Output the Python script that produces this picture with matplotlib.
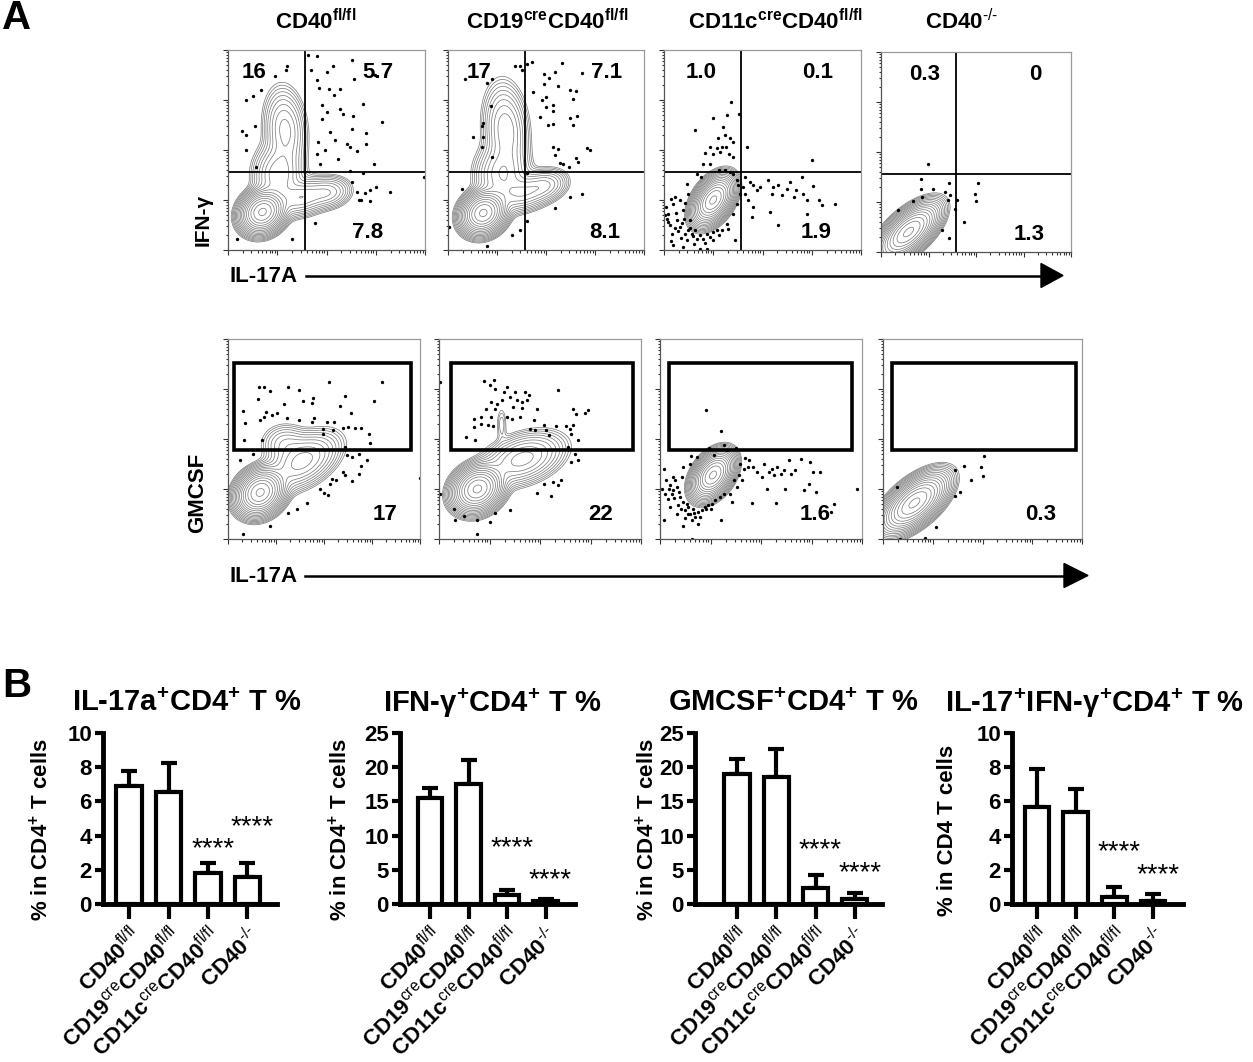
import numpy as np
import matplotlib
matplotlib.use("Agg")
from matplotlib import pyplot as plt
from matplotlib.lines import Line2D
from matplotlib.patches import Rectangle, Polygon

W, H = 1253, 1062

plt.rcParams['font.family'] = ['Liberation Sans', 'DejaVu Sans']
plt.rcParams['mathtext.fontset'] = 'custom'
plt.rcParams['mathtext.rm'] = 'Liberation Sans'
plt.rcParams['mathtext.bf'] = 'Liberation Sans:bold'
plt.rcParams['mathtext.it'] = 'Liberation Sans:italic'

# ---------------- data ----------------
genotypes = [r"$\mathbf{CD40^{fl/fl}}$", r"$\mathbf{CD19^{cre}CD40^{fl/fl}}$",
             r"$\mathbf{CD11c^{cre}CD40^{fl/fl}}$", r"$\mathbf{CD40}^{\text{-/-}}$"]
bar_labels = [r"$\mathbf{CD40}^{\mathrm{fl/fl}}$", r"$\mathbf{CD19}^{\mathrm{cre}}\mathbf{CD40}^{\mathrm{fl/fl}}$",
              r"$\mathbf{CD11c}^{\mathrm{cre}}\mathbf{CD40}^{\mathrm{fl/fl}}$", r"$\mathbf{CD40}^{\text{-/-}}$"]

# quadrant percentages (IFN-g vs IL-17A): upper-left, upper-right, lower-right
ifn_ul = ["16", "17", "1.0", "0.3"]
ifn_ur = ["5.7", "7.1", "0.1", "0"]
ifn_lr = ["7.8", "8.1", "1.9", "1.3"]
gm_pct = ["17", "22", "1.6", "0.3"]

# quadrant gate positions (log decades)
quad_x = [1.57, 1.57, 1.56, 1.58]
quad_y = [1.56, 1.56, 1.56, 1.56]
# GMCSF gate: x0, x1, y0, y1
gm_gates = [(0.12, 3.81, 1.78, 3.52), (0.24, 3.84, 1.78, 3.52),
            (0.18, 3.80, 1.78, 3.52), (0.18, 3.88, 1.78, 3.52)]

# population blobs: cx, cy, sx, sy, angle, weight
blobs_ifn = [
    [(0.70, 0.76, 0.20, 0.17, 35, 1.0), (1.16, 2.40, 0.20, 0.40, 5, 0.07),
     (1.02, 1.50, 0.24, 0.30, 0, 0.08), (1.50, 1.05, 0.30, 0.17, 15, 0.08),
     (2.05, 1.15, 0.22, 0.15, 10, 0.05)],
    [(0.72, 0.74, 0.20, 0.17, 35, 1.0), (1.18, 2.40, 0.21, 0.44, 5, 0.08),
     (1.10, 1.50, 0.26, 0.30, 0, 0.08), (1.55, 1.15, 0.30, 0.17, 15, 0.08),
     (2.00, 1.30, 0.22, 0.15, 15, 0.05)],
    [(1.00, 1.00, 0.23, 0.14, 55, 1.0)],
    [(0.58, 0.40, 0.32, 0.15, 40, 1.0)],
]
blobs_gm = [
    [(0.67, 0.93, 0.22, 0.18, 35, 1.0), (1.55, 1.55, 0.40, 0.22, 30, 0.10),
     (1.20, 1.90, 0.25, 0.20, 0, 0.03)],
    [(0.76, 1.00, 0.22, 0.18, 35, 1.0), (1.65, 1.60, 0.40, 0.22, 20, 0.10),
     (1.24, 2.30, 0.06, 0.20, 0, 0.01)],
    [(1.05, 1.28, 0.22, 0.14, 55, 1.0)],
    [(0.63, 0.72, 0.33, 0.16, 40, 1.0)],
]

dots_ifn = [
    [(1.19, 3.69), (1.17, 3.6), (0.96, 3.48), (0.67, 3.21), (0.51, 3.08), (0.37, 3.0), (0.28, 2.39),
     (0.37, 2.3), (0.55, 2.47), (0.37, 2.0), (0.57, 1.67), (1.62, 3.9), (1.8, 3.88), (1.69, 3.6),
     (1.8, 3.41), (2.0, 3.57), (2.14, 3.69), (2.51, 3.8), (2.56, 3.43), (2.98, 3.5), (1.85, 3.25),
     (2.06, 3.23), (2.16, 3.1), (2.27, 3.23), (1.9, 2.9), (2.0, 2.77), (2.27, 2.83), (2.34, 2.73),
     (2.75, 2.93), (2.54, 2.68), (1.9, 2.63), (3.12, 2.57), (2.51, 2.43), (2.07, 2.37), (2.8, 2.35),
     (2.17, 2.21), (2.41, 2.13), (2.48, 2.07), (2.81, 2.12), (1.83, 2.17), (1.97, 2.0), (1.8, 1.93),
     (1.87, 1.73), (2.24, 1.83), (2.61, 1.99), (2.96, 1.72), (2.48, 1.59), (2.74, 1.55), (2.51, 1.37),
     (2.61, 1.17), (2.78, 1.15), (2.88, 1.21), (3.0, 1.27), (3.28, 1.17), (2.65, 1.01), (2.71, 1.01),
     (2.88, 0.99), (1.77, 0.55), (1.29, 0.23), (0.19, 0.23), (3.98, 1.47)],
    [(0.35, 3.42), (0.79, 3.35), (0.89, 3.43), (1.37, 3.68), (1.47, 3.68), (1.5, 3.6), (1.61, 3.73),
     (1.71, 3.76), (0.87, 2.88), (0.71, 2.55), (0.69, 2.47), (0.52, 2.27), (0.71, 2.27), (0.69, 2.07),
     (0.89, 1.87), (1.95, 3.52), (2.07, 3.45), (2.19, 3.57), (2.32, 3.75), (2.73, 3.55), (1.95, 3.33),
     (2.25, 3.28), (2.49, 3.21), (2.61, 3.19), (1.74, 3.17), (1.91, 3.0), (2.0, 3.07), (2.56, 3.03),
     (2.01, 2.87), (2.15, 2.9), (2.14, 2.79), (1.88, 2.67), (2.49, 2.65), (2.64, 2.68), (2.05, 2.5),
     (2.15, 2.53), (2.56, 2.5), (2.15, 2.07), (2.25, 2.03), (2.83, 2.05), (2.9, 2.0), (2.18, 1.9),
     (2.29, 1.75), (2.35, 1.73), (2.61, 1.85), (2.66, 1.77), (2.46, 1.67), (1.61, 1.55), (0.28, 1.23),
     (2.49, 1.07), (2.73, 1.12), (2.18, 0.85), (1.61, 0.59), (1.47, 0.4), (1.3, 0.3), (0.79, 0.08),
     (0.02, 0.47)],
    [(1.37, 2.97), (0.99, 2.65), (1.27, 2.7), (1.52, 2.73), (0.63, 2.41), (1.19, 2.45), (1.1, 2.25),
     (1.24, 2.3), (1.34, 2.25), (1.41, 2.17), (0.93, 2.07), (1.07, 2.05), (1.17, 2.07), (1.26, 2.07),
     (0.83, 1.95), (1.0, 1.93), (1.14, 1.97), (1.31, 1.93), (1.41, 1.87), (1.68, 2.07), (3.0, 1.81),
     (0.8, 1.73), (0.93, 1.73), (1.12, 1.6), (1.24, 1.6), (1.34, 1.57), (1.65, 1.47), (1.75, 1.37),
     (1.81, 1.3), (1.88, 1.2), (1.95, 1.27), (2.12, 1.4), (2.22, 1.27), (2.19, 1.13), (2.32, 1.3),
     (2.39, 1.1), (2.49, 1.23), (2.56, 1.37), (2.63, 1.07), (2.69, 1.2), (2.8, 1.47), (2.83, 1.13),
     (2.9, 1.0), (3.03, 1.28), (3.14, 1.0), (3.2, 0.9), (3.47, 0.93), (2.15, 0.77), (2.32, 0.5),
     (2.9, 0.73), (1.78, 0.67), (1.81, 0.87), (1.71, 1.0), (1.65, 1.13), (1.61, 1.27), (1.44, 0.2),
     (0.05, 0.87), (0.09, 0.73), (0.19, 0.93), (0.26, 0.6), (0.32, 1.0), (0.39, 0.8), (0.46, 1.33),
     (0.49, 1.13), (0.53, 0.6), (0.32, 0.47), (0.43, 0.33), (0.46, 0.2), (0.56, 0.33), (0.63, 0.4),
     (0.6, 0.13), (0.73, 0.3), (0.8, 0.23), (0.87, 0.33), (0.93, 0.27), (1.0, 0.37), (1.07, 0.4),
     (0.73, 0.03), (0.87, 0.03), (0.16, 0.33), (0.19, 0.1), (0.39, 0.07), (0.09, 0.57), (0.66, 1.53),
     (0.76, 1.47), (1.41, 1.53), (1.48, 1.4), (1.51, 1.3), (1.54, 1.13), (1.48, 0.93), (1.41, 0.73),
     (1.27, 0.53), (1.17, 0.4), (0.22, 1.07), (0.02, 0.7), (0.12, 0.5), (0.25, 0.75), (0.36, 0.55),
     (0.29, 0.38), (0.52, 0.45), (0.68, 0.22), (0.99, 0.2), (0.14, 1.02), (0.42, 0.95),
     (0.35, 0.25), (0.58, 0.28), (0.48, 0.4), (0.22, 0.45), (0.06, 0.62), (0.84, 0.15), (1.12, 0.3),
     (1.3, 0.42), (0.15, 0.18), (0.4, 0.62)],
    [(0.98, 1.76), (0.84, 1.47), (0.84, 1.27), (1.1, 1.27), (1.44, 1.39), (1.35, 1.21), (1.46, 1.15),
     (1.42, 1.05), (1.59, 1.05), (1.56, 0.87), (1.75, 0.61), (1.28, 0.44), (1.44, 0.29), (1.98, 1.17),
     (2.05, 1.39), (2.0, 1.02), (0.67, 1.02), (0.36, 0.85), (0.86, 1.11)],
]

dots_gm = [
    [(0.32, 2.57), (0.35, 2.33), (0.34, 1.98), (0.65, 3.05), (0.74, 3.05), (0.63, 2.8), (0.88, 2.97),
     (0.79, 2.54), (0.74, 2.45), (0.92, 2.48), (1.03, 2.53), (1.26, 3.05), (1.48, 2.99), (1.17, 2.7),
     (1.22, 2.43), (1.47, 2.38), (1.57, 2.77), (1.78, 2.83), (1.76, 2.73), (1.79, 2.43), (1.74, 2.35),
     (2.11, 3.14), (2.44, 2.87), (2.33, 2.66), (2.56, 2.53), (2.06, 2.35), (2.21, 2.35), (1.97, 2.21),
     (2.19, 2.19), (2.4, 2.23), (2.51, 2.25), (1.97, 2.11), (2.65, 2.23), (2.78, 2.23), (2.94, 2.11),
     (2.96, 1.93), (3.05, 2.77), (3.21, 3.14), (0.7, 1.99), (0.67, 2.38), (0.25, 1.58), (0.53, 1.71),
     (2.44, 1.85), (2.47, 1.68), (2.58, 1.65), (2.72, 1.71), (2.78, 1.46), (2.89, 1.58), (2.72, 1.31),
     (2.4, 1.35), (2.44, 1.28), (2.26, 1.18), (2.16, 1.21), (2.13, 1.11), (2.58, 1.17), (1.92, 1.01),
     (2.09, 0.88), (1.99, 0.93), (1.65, 0.73), (1.43, 0.61), (1.24, 0.53), (0.88, 0.27), (0.31, 0.11),
     (3.99, 1.23)],
    [(0.9, 3.16), (1.09, 3.18), (1.0, 3.08), (1.1, 3.01), (1.34, 3.05), (1.29, 2.95), (1.51, 2.95),
     (1.71, 2.95), (1.78, 2.88), (1.41, 2.85), (1.54, 2.78), (1.64, 2.75), (1.74, 2.78), (1.24, 2.78),
     (1.03, 2.75), (1.14, 2.71), (0.93, 2.61), (1.1, 2.61), (1.47, 2.65), (1.64, 2.63), (1.95, 2.61),
     (2.35, 2.98), (0.7, 2.41), (0.83, 2.45), (1.03, 2.45), (0.7, 2.25), (0.83, 2.31), (0.97, 2.28),
     (1.07, 2.26), (1.34, 2.45), (1.44, 2.41), (1.61, 2.45), (1.88, 2.38), (2.08, 2.28), (1.81, 2.21),
     (1.91, 2.18), (2.11, 2.18), (2.32, 2.26), (2.18, 2.08), (2.52, 2.26), (2.59, 2.21), (2.66, 2.28),
     (2.62, 2.11), (2.76, 1.99), (2.66, 2.61), (2.72, 2.5), (2.89, 2.53), (2.96, 2.59), (0.53, 2.05),
     (0.71, 1.98), (2.55, 1.85), (2.62, 1.55), (2.76, 1.58), (2.69, 1.71), (2.42, 1.19), (2.25, 1.15),
     (2.08, 1.11), (2.35, 1.08), (1.95, 0.93), (2.22, 0.86), (1.41, 0.58), (1.1, 0.53), (1.0, 0.35),
     (0.76, 0.38), (0.76, 0.11), (0.49, 0.46), (0.32, 0.39), (0.29, 0.61), (0.02, 0.9), (0.02, 3.15)],
    [(0.91, 2.58), (1.21, 2.17), (1.27, 1.88), (0.98, 1.83), (1.51, 1.83), (0.61, 1.66), (1.32, 1.78),
     (1.69, 1.63), (1.77, 1.58), (1.59, 1.51), (1.66, 1.41), (1.75, 1.45), (1.85, 1.45), (1.92, 1.35),
     (2.02, 1.25), (2.06, 1.5), (2.15, 1.35), (2.22, 1.41), (2.25, 1.28), (2.32, 1.45), (2.4, 1.3),
     (2.45, 1.38), (2.55, 1.58), (2.6, 1.3), (2.68, 1.38), (2.8, 1.61), (2.98, 1.55), (3.03, 1.35),
     (3.17, 1.35), (2.95, 1.11), (3.08, 0.95), (2.85, 0.98), (2.3, 0.73), (2.48, 1.01), (2.11, 1.01),
     (1.82, 0.73), (3.91, 1.01), (3.44, 0.71), (3.38, 0.55), (1.52, 1.05), (1.42, 0.75), (1.38, 0.91),
     (1.46, 1.18), (1.56, 1.28), (1.62, 1.18), (0.07, 1.41), (0.12, 1.19), (0.03, 1.01), (0.2, 1.08),
     (0.23, 0.91), (0.3, 1.18), (0.33, 1.05), (0.4, 0.85), (0.36, 0.68), (0.46, 0.75), (0.5, 0.58),
     (0.56, 0.65), (0.6, 0.51), (0.66, 0.61), (0.7, 0.45), (0.76, 0.55), (0.83, 0.58), (0.89, 0.65),
     (0.96, 0.68), (1.03, 0.71), (1.09, 0.78), (1.19, 0.85), (1.26, 0.91), (0.07, 0.38), (0.46, 0.26),
     (0.63, 0.38), (0.76, 0.31), (1.21, 0.39), (0.63, 0.01), (0.43, 1.25), (0.46, 1.45), (0.6, 1.51),
     (0.73, 1.65), (1.06, 1.68), (0.26, 0.98), (0.15, 0.81), (0.33, 0.51), (0.2, 0.65), (0.53, 0.7),
     (0.38, 0.95), (0.68, 0.52), (0.92, 0.6), (0.25, 1.25), (0.1, 0.9), (0.5, 0.42), (0.55, 0.5),
     (0.42, 0.6), (0.28, 0.82), (0.18, 1.0), (0.8, 0.45), (1.0, 0.6)],
    [(0.28, 1.05), (1.45, 1.38), (1.62, 1.46), (1.97, 1.45), (2.04, 1.66), (2.0, 1.26), (1.77, 1.19),
     (1.55, 0.95), (1.45, 0.87), (1.07, 0.25), (0.85, 0.03), (0.34, 0.01)],
]

# panel B bar data (mean, upper SD)
il17_mean = [6.9, 6.55, 1.8, 1.6]
il17_err = [0.9, 1.7, 0.6, 0.8]
ifn_mean = [15.5, 17.5, 1.3, 0.4]
ifn_err = [1.5, 3.5, 0.7, 0.3]
gm_mean = [19.0, 18.6, 2.3, 0.8]
gm_err = [2.2, 4.0, 1.9, 0.8]
dp_mean = [5.7, 5.4, 0.4, 0.2]
dp_err = [2.2, 1.3, 0.6, 0.4]
il17_stars = [3.2, 4.5]
ifn_stars = [8.2, 3.5]
gm_stars = [7.9, 4.5]
dp_stars = [3.0, 1.7]

fig = plt.figure(figsize=(W / 100, H / 100), dpi=100)


def px_axes(x0, y0, x1, y1):
    return fig.add_axes([x0 / W, 1 - y1 / H, (x1 - x0) / W, (y1 - y0) / H])


def ftext(x, y, s, **kw):
    fig.text(x / W, 1 - y / H, s, **kw)


def density(blobs):
    g = np.linspace(0, 4, 241)
    X, Y = np.meshgrid(g, g)
    Z = np.zeros_like(X)
    for cx, cy, sx, sy, ang, w in blobs:
        t = np.deg2rad(ang)
        dx, dy = X - cx, Y - cy
        u = dx * np.cos(t) + dy * np.sin(t)
        v = -dx * np.sin(t) + dy * np.cos(t)
        Z += w * np.exp(-0.5 * ((u / sx) ** 2 + (v / sy) ** 2))
    return X, Y, Z


def flow_axes(rect, blobs, dots):
    ax = px_axes(*rect)
    X, Y, Z = density(blobs)
    levels = Z.max() * np.geomspace(0.004, 0.92, 17)
    ax.contour(X, Y, Z, levels=levels, colors='#808080', linewidths=0.55)
    d = np.array(dots)
    ax.plot(d[:, 0], d[:, 1], 'o', ms=2.4, color='k', mec='none')
    ax.set_xlim(0, 4)
    ax.set_ylim(0, 4)
    minor = [k + np.log10(m) for k in range(4) for m in range(2, 10)]
    ax.set_xticks(range(5))
    ax.set_yticks(range(5))
    ax.set_xticks(minor, minor=True)
    ax.set_yticks(minor, minor=True)
    ax.tick_params(which='both', direction='out', labelbottom=False, labelleft=False,
                   color='#333333', width=0.8)
    ax.tick_params(which='major', length=3.5)
    ax.tick_params(which='minor', length=1.8)
    for s in ['top', 'right']:
        ax.spines[s].set_color('#9a9a9a')
    for s in ['left', 'bottom']:
        ax.spines[s].set_color('#555555')
    for s in ax.spines.values():
        s.set_linewidth(0.9)
    return ax


# ---------------- panel A ----------------
ftext(2, 18, "A", fontsize=29, fontweight='bold', va='center')

row1 = [(228, 50, 425, 250), (448, 50, 644, 250), (664, 50, 861, 250), (881, 52, 1071, 252)]
row2 = [(228, 339, 420, 539), (439, 339, 641, 539), (660, 339, 862, 539), (883, 339, 1082, 539)]
title_x = [316, 547, 775, 962]
ul_fx = [0.13, 0.16, 0.19, 0.23]
ur_fx = [0.76, 0.81, 0.78, 0.81]
lr_fx = [0.71, 0.80, 0.77, 0.78]
gm_fx = [0.82, 0.80, 0.77, 0.79]

for i in range(4):
    ftext(title_x[i], 22, genotypes[i], fontsize=16, ha='center', va='center')
    ax = flow_axes(row1[i], blobs_ifn[i], dots_ifn[i])
    ax.axvline(quad_x[i], color='k', lw=1.3)
    ax.axhline(quad_y[i], color='k', lw=1.3)
    kw = dict(transform=ax.transAxes, fontsize=16, fontweight='bold', ha='center', va='center')
    ax.text(ul_fx[i], 0.89, ifn_ul[i], **kw)
    ax.text(ur_fx[i], 0.89, ifn_ur[i], **kw)
    ax.text(lr_fx[i], 0.09, ifn_lr[i], **kw)

    ax = flow_axes(row2[i], blobs_gm[i], dots_gm[i])
    x0, x1, y0, y1 = gm_gates[i]
    ax.add_patch(Rectangle((x0, y0), x1 - x0, y1 - y0, fill=False, ec='k', lw=2.6, zorder=5))
    ax.text(gm_fx[i], 0.12, gm_pct[i], transform=ax.transAxes, fontsize=16,
            fontweight='bold', ha='center', va='center')

ftext(203, 220, "IFN-γ", fontsize=15, fontweight='bold', rotation=90, ha='center', va='center')
ftext(198, 493, "GMCSF", fontsize=16, fontweight='bold', rotation=90, ha='center', va='center')
ftext(229, 277, "IL-17A", fontsize=16, fontweight='bold', ha='left', va='center')
ftext(229, 577, "IL-17A", fontsize=16, fontweight='bold', ha='left', va='center')

for (xa, xb, xh, y) in [(306, 1041, 1063, 275.5), (305, 1064, 1088, 575.5)]:
    fig.add_artist(Line2D([xa / W, xb / W], [1 - y / H, 1 - y / H], transform=fig.transFigure,
                          color='k', lw=1.8))
    fig.add_artist(Polygon([(xb / W, 1 - (y - 12) / H), (xb / W, 1 - (y + 12) / H),
                            (xh / W, 1 - y / H)], closed=True, transform=fig.transFigure,
                           color='k'))

# ---------------- panel B ----------------
ftext(2, 686, "B", fontsize=29, fontweight='bold', va='center')

charts = [
    dict(left=103, right=277, c0=129, s=39.5, ymax=10, step=2, mean=il17_mean, err=il17_err,
         stars=il17_stars, title=r"IL-17a$^{\mathbf{+}}$CD4$^{\mathbf{+}}$ T %", tx=187,
         ylabel=r"% in CD4$^{\mathbf{+}}$ T cells", lx=41),
    dict(left=400, right=575, c0=430, s=38.5, ymax=25, step=5, mean=ifn_mean, err=ifn_err,
         stars=ifn_stars, title=r"IFN-γ$^{\mathbf{+}}$CD4$^{\mathbf{+}}$ T %", tx=492,
         ylabel=r"% in CD4$^{\mathbf{+}}$ T cells", lx=340),
    dict(left=695, right=882, c0=737, s=39.3, ymax=25, step=5, mean=gm_mean, err=gm_err,
         stars=gm_stars, title=r"GMCSF$^{\mathbf{+}}$CD4$^{\mathbf{+}}$ T %", tx=793,
         ylabel=r"% in CD4$^{\mathbf{+}}$ T cells", lx=647),
    dict(left=1012, right=1183, c0=1037, s=38.7, ymax=10, step=2, mean=dp_mean, err=dp_err,
         stars=dp_stars, title=r"IL-17$^{\mathbf{+}}$IFN-γ$^{\mathbf{+}}$CD4$^{\mathbf{+}}$ T %",
         tx=1095, ylabel="% in CD4 T cells", lx=947),
]

for c in charts:
    ax = px_axes(c['left'], 733, c['right'], 904)
    x = np.arange(4)
    ax.bar(x, c['mean'], width=0.64, color='white', edgecolor='k', lw=3, zorder=2)
    ax.errorbar(x, c['mean'], yerr=[np.zeros(4), c['err']], fmt='none', ecolor='k',
                elinewidth=3, capsize=6, capthick=3, zorder=1)
    ax.set_xlim((c['left'] - c['c0']) / c['s'], (c['right'] - c['c0']) / c['s'])
    ax.set_ylim(0, c['ymax'])
    ax.set_yticks(np.arange(0, c['ymax'] + 0.1, c['step']))
    ax.set_yticklabels([str(int(v)) for v in np.arange(0, c['ymax'] + 0.1, c['step'])],
                       fontsize=16, fontweight='bold')
    ax.set_xticks(x)
    ax.set_xticklabels(bar_labels, fontsize=16, rotation=45, ha='right', va='top',
                       rotation_mode='anchor')
    ax.tick_params(axis='y', length=6, width=3, pad=2)
    ax.tick_params(axis='x', length=11, width=3, pad=3)
    for s in ['top', 'right']:
        ax.spines[s].set_visible(False)
    for s in ['left', 'bottom']:
        ax.spines[s].set_linewidth(3.5)
    for j, ys in zip([2, 3], c['stars']):
        ax.text(j + 0.12, ys, "****", fontsize=20, ha='center', va='center', clip_on=False)
    ftext(c['tx'], 703, c['title'], fontsize=21, fontweight='bold', ha='center', va='center')
    ftext(c['lx'], 830, c['ylabel'], fontsize=16, fontweight='bold', rotation=90,
          ha='center', va='center')

fig.savefig("out.png", dpi=100)
